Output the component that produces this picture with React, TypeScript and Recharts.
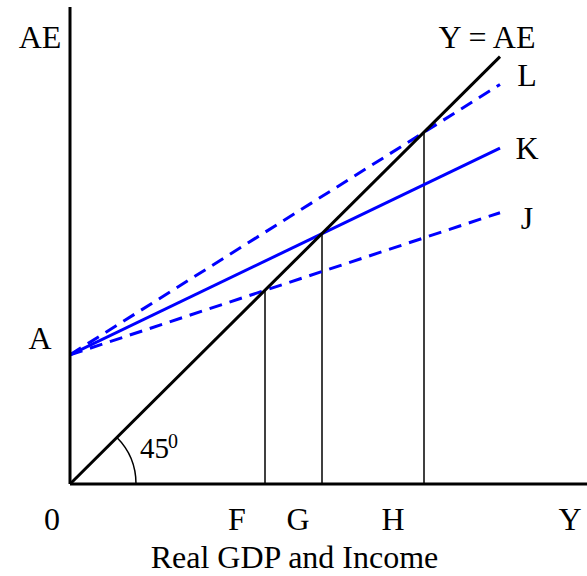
import { ComposedChart, Label, Line, ReferenceDot, XAxis, YAxis } from 'recharts'

// values in chart units (x: real GDP, y: aggregate expenditure)
const interceptA = 13
const lineEndX = 43
const endL = 40.2
const endK = 33.8
const endJ = 27.3
const equilibriumF = 19.5
const equilibriumG = 25.2
const equilibriumH = 35.4

const xTickValues = [0, 16.7, 22.8, 32.3, 50]
const xTickLabels = ['0', 'F', 'G', 'H', 'Y']
const yTickValues = [14.7, 45]
const yTickLabels = ['A', 'AE']

const FONT = '"Liberation Serif", "Times New Roman", serif'
const BLUE = '#0000ff'

const line45 = [
  { x: 0, y: 0 },
  { x: lineEndX, y: lineEndX },
]
const lineL = [
  { x: 0, y: interceptA },
  { x: lineEndX, y: endL },
]
const lineK = [
  { x: 0, y: interceptA },
  { x: lineEndX, y: endK },
]
const lineJ = [
  { x: 0, y: interceptA },
  { x: lineEndX, y: endJ },
]
const verticals = [equilibriumF, equilibriumG, equilibriumH].map((e) => [
  { x: e, y: 0 },
  { x: e, y: e },
])

function XTick({ x, y, payload }: any) {
  const i = xTickValues.indexOf(payload.value)
  const shift = i === 0 ? -18 : 0
  return (
    <text x={x + shift} y={y + 38} textAnchor="middle" fontFamily={FONT} fontSize={32} fill="#000">
      {xTickLabels[i]}
    </text>
  )
}

function YTick({ y, payload }: any) {
  const i = yTickValues.indexOf(payload.value)
  return (
    <text x={40} y={y} dy="0.35em" textAnchor="middle" fontFamily={FONT} fontSize={32} fill="#000">
      {yTickLabels[i]}
    </text>
  )
}

function endLabel(text: string, dx: number, dy: number, count: number) {
  return (props: any) => {
    if (props.index !== count - 1) return null
    return (
      <text
        x={props.x + dx}
        y={props.y + dy}
        dy="0.35em"
        textAnchor="middle"
        fontFamily={FONT}
        fontSize={32}
        fill="#000"
      >
        {text}
      </text>
    )
  }
}

function AngleMark({ cx, cy }: any) {
  const r = 66
  const d = r * Math.SQRT1_2
  return (
    <g>
      <path d={`M ${cx + r} ${cy} A ${r} ${r} 0 0 0 ${cx + d} ${cy - d}`} fill="none" stroke="#000" strokeWidth={1.5} />
      <text x={cx + 70} y={cy - 26} fontFamily={FONT} fontSize={29} fill="#000">
        45
      </text>
      <text x={cx + 98} y={cy - 36} fontFamily={FONT} fontSize={20} fill="#000">
        0
      </text>
    </g>
  )
}

export default function App() {
  return (
    <div style={{ position: 'absolute', left: 0, top: 0, background: '#fff' }}>
      <ComposedChart width={587} height={576} margin={{ top: 7, right: 0, bottom: 0, left: 0 }}>
        <XAxis
          type="number"
          dataKey="x"
          domain={[0, 51.7]}
          ticks={xTickValues}
          tick={<XTick />}
          tickLine={false}
          axisLine={{ stroke: '#000', strokeWidth: 3 }}
          height={92}
          allowDataOverflow
        >
          <Label
            content={({ viewBox }: any) => (
              <text
                x={viewBox.x + viewBox.width / 2 - 34}
                y={viewBox.y + 84}
                textAnchor="middle"
                fontFamily={FONT}
                fontSize={32}
                fill="#000"
              >
                Real GDP and Income
              </text>
            )}
          />
        </XAxis>
        <YAxis
          type="number"
          domain={[0, 48]}
          ticks={yTickValues}
          tick={<YTick />}
          tickLine={false}
          axisLine={{ stroke: '#000', strokeWidth: 3 }}
          width={70}
          allowDataOverflow
        />
        {verticals.map((v, i) => (
          <Line
            key={i}
            data={v}
            dataKey="y"
            type="linear"
            stroke="#000"
            strokeWidth={1.5}
            dot={false}
            isAnimationActive={false}
          />
        ))}
        <Line
          data={lineJ}
          dataKey="y"
          type="linear"
          stroke={BLUE}
          strokeWidth={3}
          strokeDasharray="13 8"
          dot={false}
          label={endLabel('J', 27, 5, lineJ.length)}
          isAnimationActive={false}
        />
        <Line
          data={lineL}
          dataKey="y"
          type="linear"
          stroke={BLUE}
          strokeWidth={3}
          strokeDasharray="13 8"
          dot={false}
          label={endLabel('L', 27, -10, lineL.length)}
          isAnimationActive={false}
        />
        <Line
          data={lineK}
          dataKey="y"
          type="linear"
          stroke={BLUE}
          strokeWidth={3}
          dot={false}
          label={endLabel('K', 27, 0, lineK.length)}
          isAnimationActive={false}
        />
        <Line
          data={line45}
          dataKey="y"
          type="linear"
          stroke="#000"
          strokeWidth={3}
          dot={false}
          label={endLabel('Y = AE', -13, -20, line45.length)}
          isAnimationActive={false}
        />
        <ReferenceDot x={0} y={0} r={0} shape={<AngleMark />} />
      </ComposedChart>
    </div>
  )
}
